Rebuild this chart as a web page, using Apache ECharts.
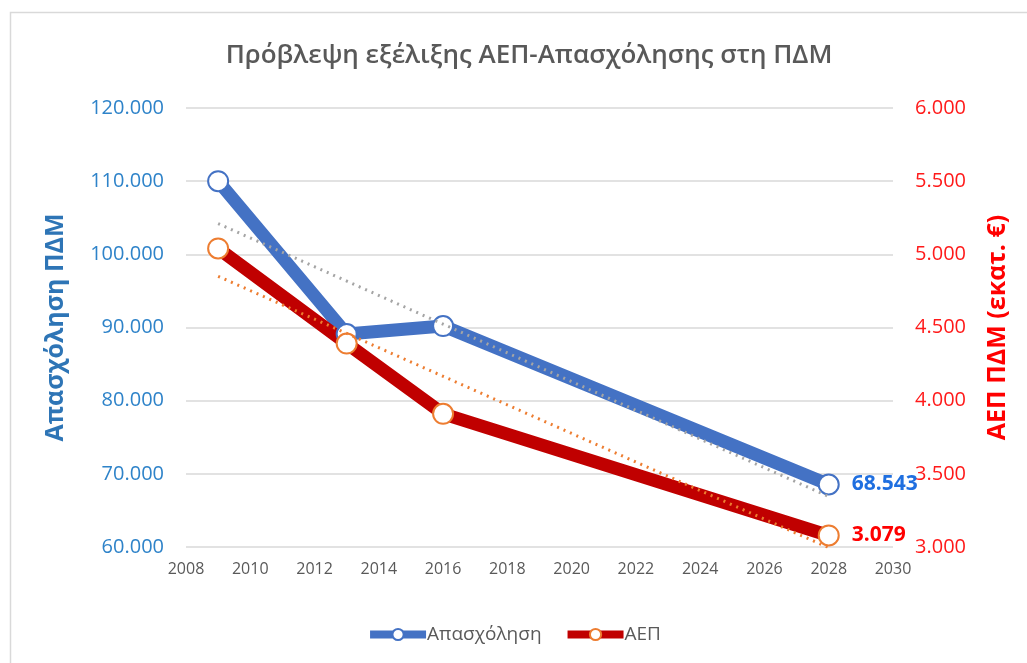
<!DOCTYPE html>
<html>
<head>
<meta charset="utf-8">
<script src="https://cdn.jsdelivr.net/npm/echarts@6/dist/echarts.min.js"></script>
<style>
  html, body { margin: 0; padding: 0; background: #fff; }
  #chart { width: 1027px; height: 663px; }
</style>
</head>
<body>
<div id="chart"></div>
<script>
const years = [2009, 2013, 2016, 2028];
const employment = [110000, 89100, 90200, 68543];
const gdp = [5040, 4390, 3910, 3079];
// trend line ends
const trendYears = [2009, 2028];
const employmentTrend = [104200, 66900];
const gdpTrend = [4850, 2995];

const fmt = (v) => String(Math.round(v)).replace(/\B(?=(\d{3})+(?!\d))/g, ".");
const pairs = (xs, ys) => xs.map((x, i) => [x, ys[i]]);
const font = "'Open Sans', 'Noto Sans', sans-serif";

const chart = echarts.init(document.getElementById("chart"));
chart.setOption({
  animation: false,
  textStyle: { fontFamily: font },
  title: {
    text: "Πρόβλεψη εξέλιξης ΑΕΠ-Απασχόλησης στη ΠΔΜ",
    left: 524,
    textAlign: "center",
    top: 38,
    textStyle: { color: "#595959", fontSize: 26, fontWeight: 600, fontFamily: font },
  },
  graphic: [
    {
      type: "rect",
      shape: { x: 10.5, y: 12.5, width: 1100, height: 700 },
      style: { fill: "none", stroke: "#d9d9d9", lineWidth: 1.5 },
      silent: true,
    },
  ],
  legend: {
    data: ["Απασχόληση", "ΑΕΠ"],
    bottom: 14,
    left: "center",
    itemWidth: 56,
    itemHeight: 14,
    itemGap: 22,
    lineStyle: { width: 8 },
    textStyle: { color: "#595959", fontSize: 19, fontFamily: font, padding: [0, 0, 0, -4] },
  },
  grid: { left: 186, right: 134, top: 108, bottom: 116 },
  xAxis: {
    type: "value",
    min: 2008,
    max: 2030,
    interval: 2,
    axisLine: { show: false },
    axisTick: { show: false },
    splitLine: { show: false },
    axisLabel: { color: "#595959", fontSize: 16, margin: 14, formatter: (v) => String(v) },
  },
  yAxis: [
    {
      type: "value",
      min: 60000,
      max: 120000,
      interval: 10000,
      name: "Απασχόληση ΠΔΜ",
      nameLocation: "middle",
      nameRotate: 90,
      nameGap: 118,
      nameTextStyle: { color: "#2e75b6", fontSize: 25, fontWeight: "bold", fontFamily: font },
      axisLine: { show: false },
      axisTick: { show: false },
      axisLabel: { color: "#2e83c9", fontSize: 20, margin: 22, formatter: fmt },
      splitLine: { lineStyle: { color: "#d9d9d9", width: 1.5 } },
    },
    {
      type: "value",
      min: 3000,
      max: 6000,
      interval: 500,
      name: "ΑΕΠ ΠΔΜ (εκατ. €)",
      nameLocation: "middle",
      nameRotate: 90,
      nameGap: 92,
      nameTextStyle: { color: "#ff0000", fontSize: 25, fontWeight: "bold", fontFamily: font },
      axisLine: { show: false },
      axisTick: { show: false },
      axisLabel: { color: "#ff1a1a", fontSize: 20, margin: 22, formatter: fmt },
      splitLine: { show: false },
    },
  ],
  series: [
    {
      name: "Απασχόληση",
      type: "line",
      yAxisIndex: 0,
      data: pairs(years, employment),
      lineStyle: { color: "#4472c4", width: 13 },
      itemStyle: { color: "#ffffff", borderColor: "#4472c4", borderWidth: 2 },
      symbol: "circle",
      symbolSize: 20,
      z: 3,
      label: {
        show: true,
        position: "right",
        distance: 12,
        color: "#1f6fe0",
        fontSize: 21,
        fontWeight: "bold",
        fontFamily: font,
        formatter: (p) => (p.dataIndex === years.length - 1 ? fmt(p.value[1]) : ""),
      },
    },
    {
      name: "ΑΕΠ",
      type: "line",
      yAxisIndex: 1,
      data: pairs(years, gdp),
      lineStyle: { color: "#c00000", width: 13 },
      itemStyle: { color: "#ffffff", borderColor: "#ed7d31", borderWidth: 2 },
      symbol: "circle",
      symbolSize: 20,
      z: 3,
      label: {
        show: true,
        position: "right",
        distance: 12,
        color: "#ff0000",
        fontSize: 21,
        fontWeight: "bold",
        fontFamily: font,
        formatter: (p) => (p.dataIndex === years.length - 1 ? fmt(p.value[1]) : ""),
      },
    },
    {
      name: "Τάση Απασχόλησης",
      type: "line",
      yAxisIndex: 0,
      data: pairs(trendYears, employmentTrend),
      symbol: "none",
      lineStyle: { color: "#a5a5a5", width: 3, type: [2, 5] },
      z: 4,
      silent: true,
    },
    {
      name: "Τάση ΑΕΠ",
      type: "line",
      yAxisIndex: 1,
      data: pairs(trendYears, gdpTrend),
      symbol: "none",
      lineStyle: { color: "#ed7d31", width: 3, type: [2, 5] },
      z: 4,
      silent: true,
    },
  ],
});
</script>
</body>
</html>
